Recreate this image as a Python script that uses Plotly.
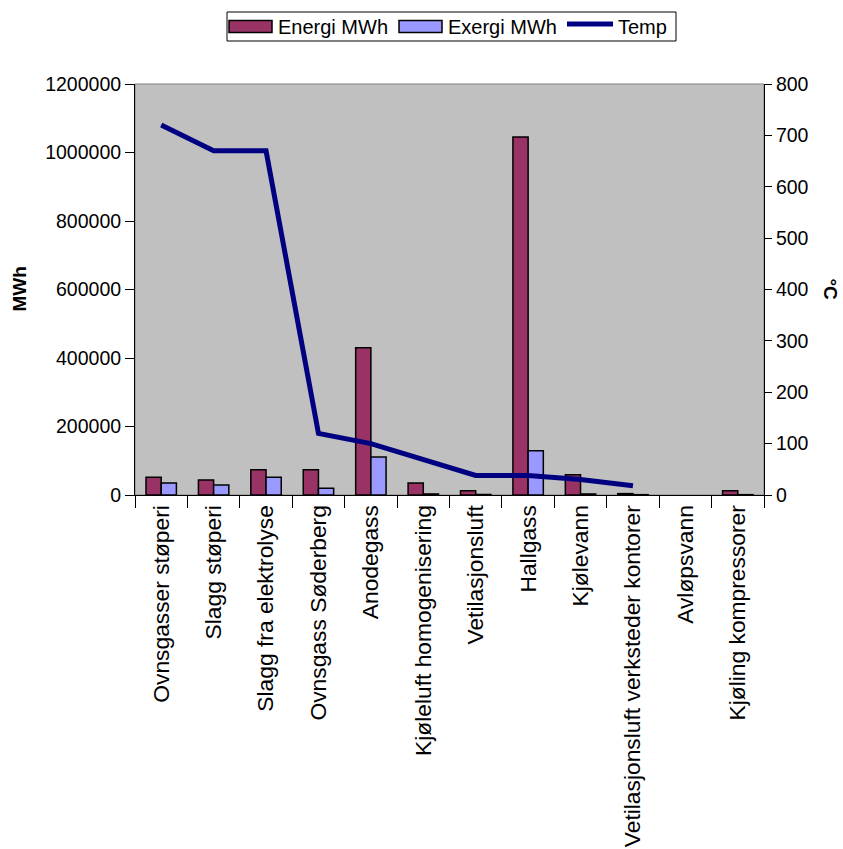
import plotly.graph_objects as go

# Heat sources and their energy / exergy content
categories = [
    "Ovnsgasser støperi",
    "Slagg støperi",
    "Slagg fra elektrolyse",
    "Ovnsgass Søderberg",
    "Anodegass",
    "Kjøleluft homogenisering",
    "Vetilasjonsluft",
    "Hallgass",
    "Kjølevann",
    "Vetilasjonsluft verksteder kontorer",
    "Avløpsvann",
    "Kjøling kompressorer",
]
energi_mwh = [52000, 44000, 74000, 74000, 430000, 35000, 12500, 1045000, 59000, 4000, None, 12500]
exergi_mwh = [35000, 29000, 52000, 19500, 111000, 3000, 1500, 129000, 3000, 1000, None, 1000]
temp_c = [720, 670, 670, 120, 100, 70, 38, 38, 30, 18, None, None]

left_ticks = [0, 200000, 400000, 600000, 800000, 1000000, 1200000]
right_ticks = [0, 100, 200, 300, 400, 500, 600, 700, 800]

ENERGI_COLOR = "#993366"
EXERGI_COLOR = "#9999FF"
TEMP_COLOR = "#000080"
FONT = "Liberation Sans, Arial, sans-serif"

W, H = 843, 849
ML, MR, MT, MB = 135, 79, 84, 354
PW, PH = W - ML - MR, H - MT - MB


def px(x):
    """pixel x -> paper x"""
    return (x - ML) / PW


def py(y):
    """pixel y -> paper y"""
    return (MT + PH - y) / PH


fig = go.Figure()
fig.add_trace(go.Bar(
    x=categories, y=energi_mwh, name="Energi MWh",
    marker=dict(color=ENERGI_COLOR, line=dict(color="black", width=1.5)),
    showlegend=False,
))
fig.add_trace(go.Bar(
    x=categories, y=exergi_mwh, name="Exergi MWh",
    marker=dict(color=EXERGI_COLOR, line=dict(color="black", width=1.5)),
    showlegend=False,
))
fig.add_trace(go.Scatter(
    x=categories, y=temp_c, name="Temp", yaxis="y2",
    mode="lines", line=dict(color=TEMP_COLOR, width=5),
    connectgaps=False, showlegend=False,
))

shapes = [
    # plot-area frame
    dict(type="rect", xref="paper", yref="paper", x0=0, x1=1, y0=0, y1=1,
         line=dict(color="#808080", width=1), layer="below"),
    # legend box
    dict(type="rect", xref="paper", yref="paper",
         x0=px(227), x1=px(676), y0=py(12), y1=py(41),
         line=dict(color="black", width=1), fillcolor="white"),
    # legend swatches
    dict(type="rect", xref="paper", yref="paper",
         x0=px(229), x1=px(272), y0=py(20.5), y1=py(32.5),
         line=dict(color="black", width=1.5), fillcolor=ENERGI_COLOR),
    dict(type="rect", xref="paper", yref="paper",
         x0=px(399), x1=px(442), y0=py(20.5), y1=py(32.5),
         line=dict(color="black", width=1.5), fillcolor=EXERGI_COLOR),
    dict(type="line", xref="paper", yref="paper",
         x0=px(567), x1=px(613), y0=py(24), y1=py(24),
         line=dict(color=TEMP_COLOR, width=5)),
]

legend_font = dict(family=FONT, size=20, color="black")
annotations = [
    dict(text="Energi MWh", x=px(276), y=py(26.5), xref="paper", yref="paper",
         xanchor="left", yanchor="middle", showarrow=False, font=legend_font),
    dict(text="Exergi MWh", x=px(446), y=py(26.5), xref="paper", yref="paper",
         xanchor="left", yanchor="middle", showarrow=False, font=legend_font),
    dict(text="Temp", x=px(616), y=py(26.5), xref="paper", yref="paper",
         xanchor="left", yanchor="middle", showarrow=False, font=legend_font),
    dict(text="<b>MWh</b>", x=px(19), y=0.5, xref="paper", yref="paper",
         xanchor="center", yanchor="middle", textangle=-90, showarrow=False,
         font=dict(family=FONT, size=19, color="black")),
    dict(text="<b>°C</b>", x=px(830), y=0.5, xref="paper", yref="paper",
         xanchor="center", yanchor="middle", textangle=90, showarrow=False,
         font=dict(family=FONT, size=19, color="black")),
]

fig.update_layout(
    width=W, height=H,
    margin=dict(l=ML, r=MR, t=MT, b=MB, pad=0, autoexpand=False),
    paper_bgcolor="white",
    plot_bgcolor="#C0C0C0",
    barmode="group",
    bargap=0.42,
    bargroupgap=0,
    font=dict(family=FONT, size=20, color="black"),
    showlegend=False,
    shapes=shapes,
    annotations=annotations,
    xaxis=dict(
        type="category",
        categoryorder="array", categoryarray=categories,
        range=[-0.5, len(categories) - 0.5],
        tickangle=-90,
        tickfont=dict(family=FONT, size=22.8, color="black"),
        ticks="outside", ticklen=12, tickwidth=1, tickcolor="black",
        tickson="boundaries",
        showline=True, linecolor="black", linewidth=1,
        showgrid=False, zeroline=False,
        automargin=False,
        fixedrange=True,
    ),
    yaxis=dict(
        range=[0, 1200000],
        tickvals=left_ticks,
        ticktext=[str(v) for v in left_ticks],
        tickfont=dict(family=FONT, size=19.5, color="black"),
        ticks="outside", ticklen=9, tickwidth=1, tickcolor="black",
        showline=True, linecolor="black", linewidth=1,
        showgrid=False, zeroline=False,
        automargin=False,
    ),
    yaxis2=dict(
        overlaying="y", side="right",
        range=[0, 800],
        tickvals=right_ticks,
        ticktext=[str(v) for v in right_ticks],
        tickfont=dict(family=FONT, size=19.5, color="black"),
        ticks="outside", ticklen=7, tickwidth=1, tickcolor="black",
        showline=True, linecolor="black", linewidth=1,
        showgrid=False, zeroline=False,
        automargin=False,
    ),
)

fig.write_html("out.html")
